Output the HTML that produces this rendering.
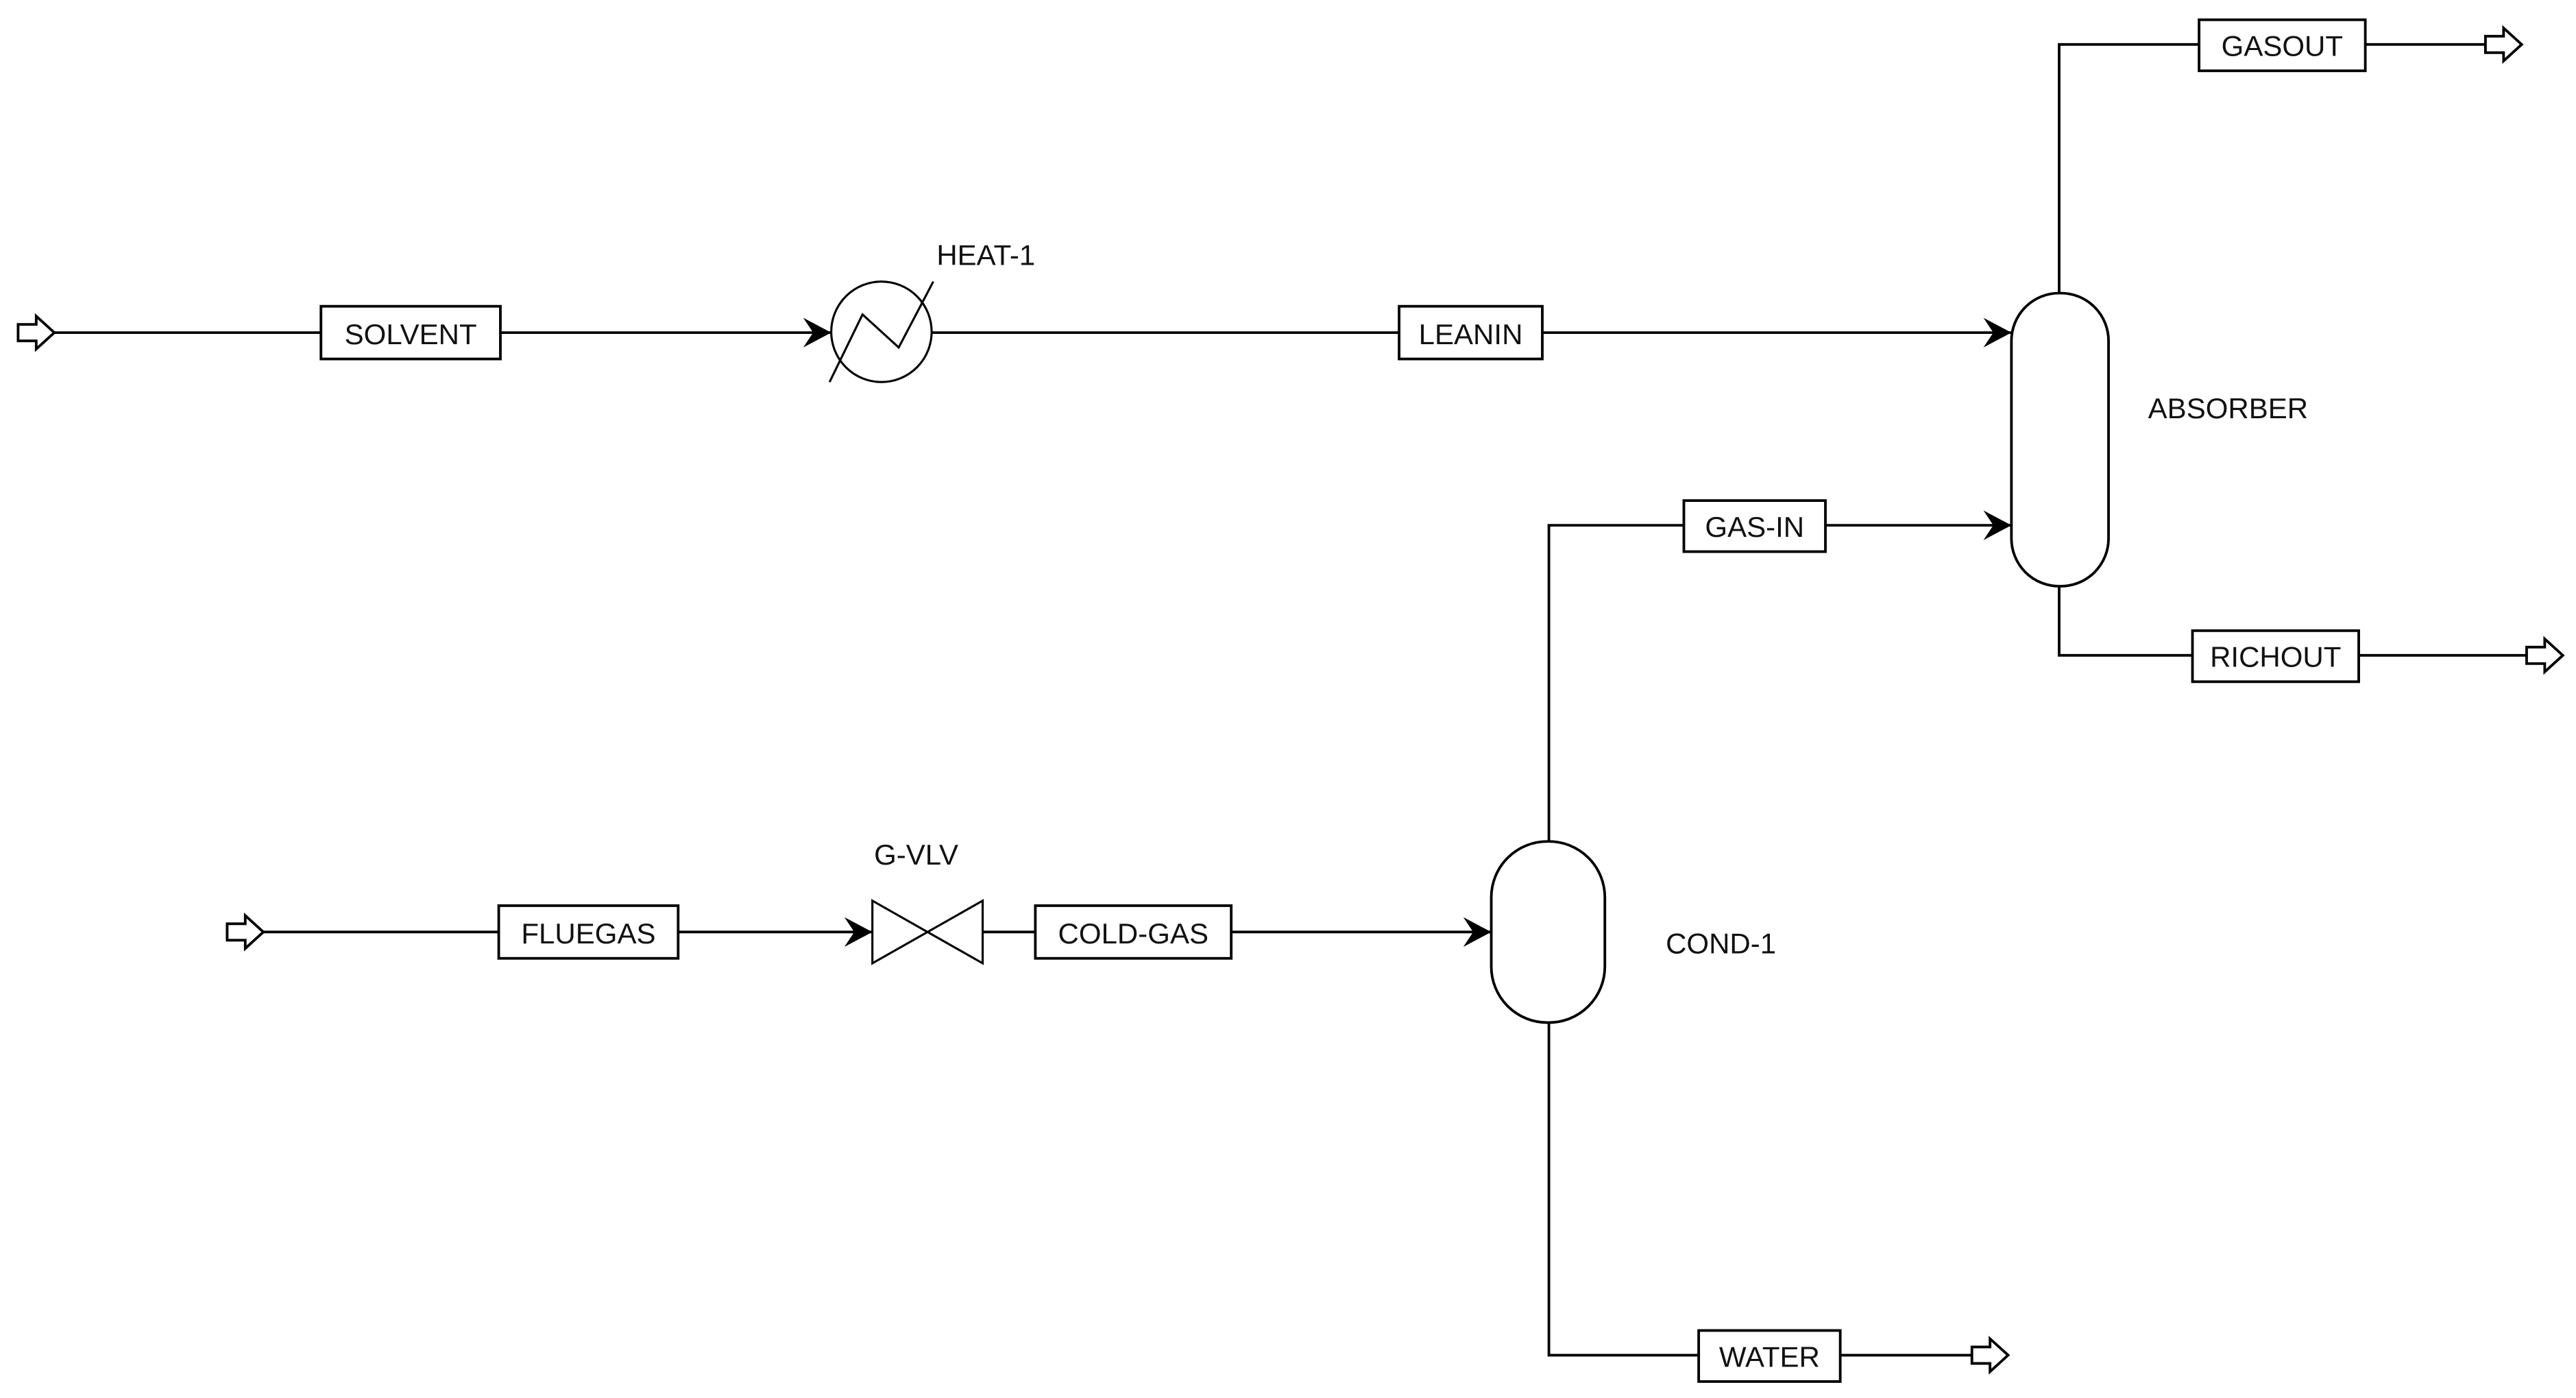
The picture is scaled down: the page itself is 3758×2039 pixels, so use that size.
<!DOCTYPE html>
<html><head><meta charset="utf-8"><style>
html,body{margin:0;padding:0;background:#fff;}
svg{display:block;}
text{font-family:"Liberation Sans",Arial,sans-serif;font-size:17.5px;fill:#111;}
</style></head><body>
<svg width="3758" height="2039" viewBox="0 0 1565 849" preserveAspectRatio="none" xmlns="http://www.w3.org/2000/svg">
<defs>
<path id="ah" d="M0,0 L-17,-9 L-11,0 L-17,9 Z" fill="#000"/>
<path id="fa" d="M0,-5 L11,-5 L11,-10 L22,0 L11,10 L11,5 L0,5 Z" fill="#fff" stroke="#000" stroke-width="1.6"/>
</defs>
<g fill="none" stroke="#000" stroke-width="1.6">
<line x1="33" y1="202" x2="195" y2="202"/>
<line x1="304" y1="202" x2="505" y2="202"/>
<line x1="566" y1="202" x2="850" y2="202"/>
<line x1="937" y1="202" x2="1222" y2="202"/>
<circle cx="535.5" cy="201.5" r="30.5" stroke-width="1.3"/>
<polyline points="504,232 524,191 546,211 567,171" stroke-width="1.3"/>
<rect x="1222" y="178" width="59" height="178" rx="29" ry="29"/>
<polyline points="1251,178 1251,27 1336,27"/>
<line x1="1437" y1="27" x2="1510" y2="27"/>
<polyline points="1251,356 1251,398 1332,398"/>
<line x1="1433" y1="398" x2="1535" y2="398"/>
<polyline points="941,511 941,319 1023,319"/>
<line x1="1109" y1="319" x2="1222" y2="319"/>
<line x1="160" y1="566" x2="303" y2="566"/>
<line x1="412" y1="566" x2="530" y2="566"/>
<line x1="597" y1="566" x2="629" y2="566"/>
<line x1="748" y1="566" x2="906" y2="566"/>
<path d="M530,547 L597,585 L597,547 L530,585 Z" stroke-width="1.3"/>
<rect x="906" y="511" width="69" height="110" rx="34" ry="34"/>
<polyline points="941,621 941,823 1032,823"/>
<line x1="1118" y1="823" x2="1198" y2="823"/>
<rect x="195" y="186" width="109" height="32"/>
<rect x="850" y="186" width="87" height="32"/>
<rect x="1336" y="12" width="101" height="31"/>
<rect x="1332" y="383" width="101" height="31"/>
<rect x="1023" y="304" width="86" height="31"/>
<rect x="303" y="550" width="109" height="32"/>
<rect x="629" y="550" width="119" height="32"/>
<rect x="1032" y="808" width="86" height="31"/>
</g>
<use href="#ah" x="505" y="202"/>
<use href="#ah" x="1222" y="202"/>
<use href="#ah" x="1222" y="319"/>
<use href="#ah" x="530" y="566"/>
<use href="#ah" x="906" y="566"/>
<use href="#fa" x="11" y="202"/>
<use href="#fa" x="138" y="566"/>
<use href="#fa" x="1510" y="27"/>
<use href="#fa" x="1535" y="398"/>
<use href="#fa" x="1198" y="823"/>
<g text-anchor="middle">
<text x="249.5" y="209">SOLVENT</text>
<text x="893.5" y="209">LEANIN</text>
<text x="1386.5" y="34">GASOUT</text>
<text x="1382.5" y="405">RICHOUT</text>
<text x="1066" y="326">GAS-IN</text>
<text x="357.5" y="573">FLUEGAS</text>
<text x="688.5" y="573">COLD-GAS</text>
<text x="1075" y="830">WATER</text>
</g>
<text x="569" y="161">HEAT-1</text>
<text x="1305" y="254">ABSORBER</text>
<text x="531" y="525">G-VLV</text>
<text x="1012" y="579">COND-1</text>
</svg>
</body></html>
